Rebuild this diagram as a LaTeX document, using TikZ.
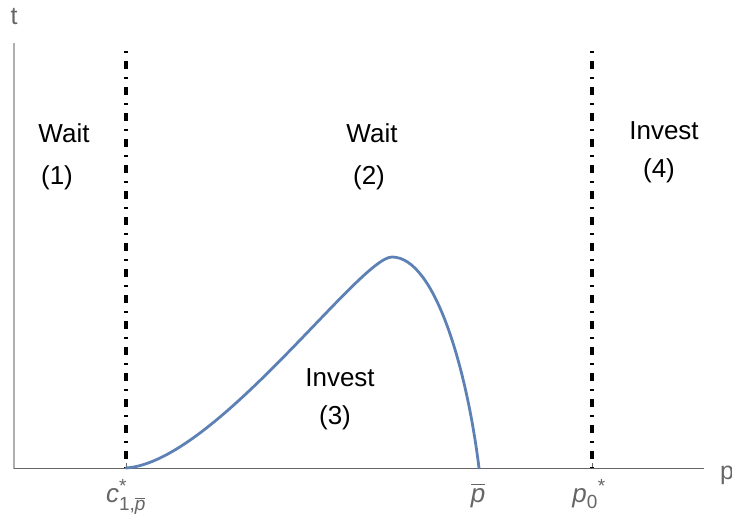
\documentclass[tikz,border=0pt]{standalone}
\usepackage{amsmath}
\usepackage{fontspec}
\setmainfont{Liberation Sans}
\DeclareMathSizes{26}{26}{19}{15}
\definecolor{axisgray}{RGB}{102,102,102}
\definecolor{yaxisgray}{RGB}{175,175,175}
\definecolor{curveblue}{RGB}{94,129,181}
\tikzset{
  regionlbl/.style={font=\fontsize{26}{30}\selectfont, text=black, inner sep=0pt},
  ticklbl/.style={font=\fontsize{26}{30}\selectfont, text=axisgray, inner sep=0pt},
  axislbl/.style={font=\fontsize{25}{28}\selectfont, text=axisgray, inner sep=0pt},
  dashdotline/.style={line width=3.4pt, black, dash pattern=on 1.6pt off 8.4pt on 7.6pt off 8.4pt},
}
\begin{document}
\begin{tikzpicture}[x=1pt,y=-1pt]
\useasboundingbox (0,0) rectangle (732,515);
% axes
\draw[yaxisgray, line width=1.6pt] (14,43) -- (14,469);
\draw[axisgray, line width=1.2pt] (14,468.5) -- (704,468.5);
\draw[axisgray, line width=0.6pt] (126,468.5) -- (126,463);
\draw[axisgray, line width=0.6pt] (592,468.5) -- (592,463);
\node[axislbl] (tlab) at (14,17) {t};
\node[axislbl, anchor=base west] (plab) at (720,479) {p};
% threshold lines
\draw[dashdotline] (126,51) -- (126,468);
\draw[dashdotline] (592,51) -- (592,468);
% curve
\draw[curveblue, line width=2.8pt, line cap=round, line join=round]
  (126,468) .. controls (215,462) and (360,257) .. (392,257)
            .. controls (435,257) and (467,370) .. (479,468);
% tick labels
\node[ticklbl, anchor=base] (clab) at (126,502) {$\text{\itshape c}^{\text{*}}_{\text{1,}\overline{\text{\itshape p}}}$};
\node[ticklbl, anchor=base] (pbar) at (478,502) {$\overline{\text{\itshape p}}$};
\node[ticklbl, anchor=base] (pzero) at (589,502) {$\text{\itshape p}_{\text{0}}{}^{\text{*}}$};
% region labels
\node[regionlbl] (w1) at (64,133) {Wait};
\node[regionlbl] (n1) at (57,178) {(1)};
\node[regionlbl] (w2) at (372,133) {Wait};
\node[regionlbl] (n2) at (369,178) {(2)};
\node[regionlbl] (i4) at (664,131) {Invest};
\node[regionlbl] (n4) at (659,171) {(4)};
\node[regionlbl] (i3) at (340,378) {Invest};
\node[regionlbl] (n3) at (335,418) {(3)};
\end{tikzpicture}
\end{document}
